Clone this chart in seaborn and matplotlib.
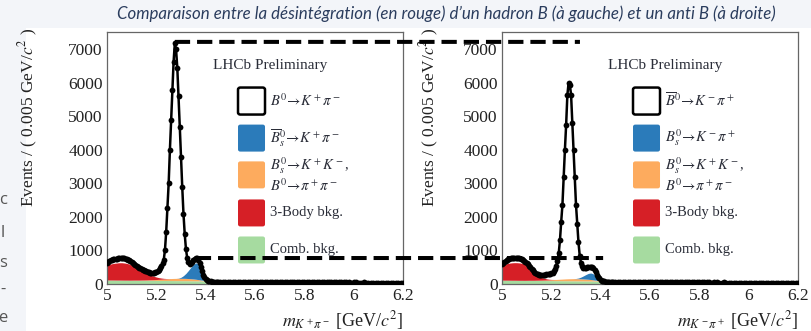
import numpy as np
import pandas as pd
import matplotlib
matplotlib.use("Agg")
import matplotlib.pyplot as plt
import seaborn as sns
from matplotlib.patches import Rectangle, FancyBboxPatch, ConnectionPatch
from matplotlib.ticker import MultipleLocator, FuncFormatter

# ---------------- data ----------------
# bin centres (GeV/c^2): fine binning 5.000-5.450 (0.005), then 5.46-6.20 (0.01)
fine_x = np.round(np.arange(5.000, 5.4501, 0.005), 3)
tail_x = np.round(np.arange(5.46, 6.2001, 0.01), 2)

left_fine = [
    620, 660, 690, 710, 725, 735, 745, 755, 760, 765,
    770, 775, 775, 770, 765, 755, 740, 725, 705, 680,
    650, 618, 588, 560, 533, 508, 485, 465, 447, 432,
    418, 400, 382, 366, 352, 343, 338, 338, 342, 350,
    362, 385, 420, 470, 540, 620, 716, 1015, 1562, 2260,
    3005, 4000, 4896, 5791, 6636, 7185, 7000, 6450, 5600, 4700,
    3800, 2900, 2100, 1500, 1050, 780, 650, 610, 620, 660,
    715, 760, 785, 780, 725, 620, 500, 380, 280, 200,
    150, 115, 95, 82, 75, 72, 70, 68, 67, 66,
    66,
]
left_tail = [
    65, 64, 66, 63, 62, 64, 61, 62, 60, 61,
    59, 60, 58, 59, 57, 58, 56, 57, 58, 55,
    56, 54, 55, 56, 53, 54, 52, 54, 53, 51,
    52, 53, 50, 51, 52, 49, 50, 51, 48, 49,
    50, 48, 47, 49, 48, 46, 47, 48, 45, 46,
    47, 45, 46, 44, 45, 46, 43, 44, 45, 43,
    44, 42, 43, 44, 42, 41, 43, 42, 40, 41,
    42, 40, 41, 39, 40,
]
right_fine = [
    600, 630, 660, 690, 720, 740, 755, 765, 770, 775,
    775, 775, 770, 770, 765, 755, 740, 720, 695, 665,
    630, 590, 545, 500, 455, 410, 370, 335, 310, 292,
    282, 278, 276, 275, 276, 280, 285, 292, 300, 308,
    318, 340, 385, 440, 530, 700, 916, 1310, 1860, 2360,
    3200, 4000, 4750, 5640, 6000, 5950, 5650, 4800, 4000, 3200,
    2360, 1800, 1250, 850, 640, 530, 490, 475, 480, 495,
    510, 518, 515, 500, 470, 420, 350, 280, 215, 165,
    125, 100, 85, 76, 70, 66, 64, 62, 61, 60,
    60,
]
right_tail = [
    59, 60, 58, 57, 59, 56, 57, 58, 55, 56,
    55, 54, 56, 53, 54, 55, 52, 53, 51, 52,
    53, 50, 51, 52, 49, 50, 51, 48, 49, 50,
    48, 47, 49, 46, 47, 48, 45, 46, 47, 44,
    45, 46, 44, 43, 45, 44, 42, 43, 44, 41,
    42, 43, 41, 42, 40, 41, 42, 39, 40, 41,
    39, 40, 38, 39, 40, 37, 38, 39, 37, 38,
    37, 38, 36, 37, 36,
]

# fit components: 5.00-5.45 (0.01) then 5.5-6.2 (0.1)
comp_x = np.concatenate([np.round(np.arange(5.00, 5.4501, 0.01), 2),
                         np.round(np.arange(5.5, 6.2001, 0.1), 1)])

left_comb = [
    120, 119, 119, 118, 117, 117, 116, 115, 115, 114,
    113, 113, 112, 111, 111, 110, 109, 109, 108, 107,
    107, 106, 105, 105, 104, 103, 103, 102, 101, 101,
    100, 99, 99, 98, 97, 97, 96, 95, 95, 94,
    93, 93, 92, 91, 91, 90,
    85, 77, 70, 63, 57, 52, 47, 43,
]
left_kk = [
    0, 0, 0, 0, 0, 0, 0, 0, 0, 0,
    2, 3, 4, 5, 7, 9, 12, 15, 18, 22,
    27, 32, 38, 44, 50, 55, 60, 64, 67, 69,
    70, 70, 68, 65, 60, 54, 46, 36, 25, 15,
    8, 4, 2, 0, 0, 0,
    0, 0, 0, 0, 0, 0, 0, 0,
]
left_3body = [
    450, 470, 486, 500, 510, 518, 519, 512, 500, 481,
    452, 418, 379, 340, 296, 250, 205, 165, 130, 100,
    75, 52, 35, 20, 10, 4, 0, 0, 0, 0,
    0, 0, 0, 0, 0, 0, 0, 0, 0, 0,
    0, 0, 0, 0, 0, 0,
    0, 0, 0, 0, 0, 0, 0, 0,
]
left_bs = [
    0, 0, 0, 0, 0, 0, 0, 0, 0, 0,
    0, 0, 0, 0, 0, 0, 0, 0, 0, 0,
    0, 0, 0, 0, 0, 0, 0, 0, 0, 5,
    30, 80, 150, 240, 340, 430, 490, 470, 330, 170,
    60, 15, 0, 0, 0, 0,
    0, 0, 0, 0, 0, 0, 0, 0,
]

right_comb = [
    115, 114, 114, 113, 112, 112, 111, 110, 110, 109,
    108, 108, 107, 106, 106, 105, 104, 104, 103, 102,
    102, 101, 100, 100, 99, 98, 98, 97, 96, 96,
    95, 94, 94, 93, 92, 92, 91, 90, 90, 89,
    88, 88, 87, 86, 86, 85,
    80, 73, 66, 60, 54, 49, 45, 41,
]
right_kk = [
    0, 0, 0, 0, 0, 0, 0, 0, 0, 0,
    2, 3, 4, 5, 7, 9, 11, 14, 17, 21,
    25, 30, 36, 41, 46, 51, 55, 59, 62, 64,
    65, 64, 62, 59, 55, 49, 42, 33, 23, 14,
    7, 3, 1, 0, 0, 0,
    0, 0, 0, 0, 0, 0, 0, 0,
]
right_3body = [
    440, 470, 495, 510, 520, 525, 525, 520, 508, 488,
    430, 370, 300, 235, 175, 125, 85, 55, 35, 20,
    10, 4, 0, 0, 0, 0, 0, 0, 0, 0,
    0, 0, 0, 0, 0, 0, 0, 0, 0, 0,
    0, 0, 0, 0, 0, 0,
    0, 0, 0, 0, 0, 0, 0, 0,
]
right_bs = [
    0, 0, 0, 0, 0, 0, 0, 0, 0, 0,
    0, 0, 0, 0, 0, 0, 0, 0, 0, 0,
    0, 0, 0, 0, 0, 0, 0, 0, 0, 0,
    5, 20, 50, 90, 135, 175, 195, 180, 120, 60,
    20, 5, 0, 0, 0, 0,
    0, 0, 0, 0, 0, 0, 0, 0,
]

left_legend = [
    r"$B^0\!\rightarrow\!K^+\pi^-$",
    r"$\overline{B}{}_s^0\!\rightarrow\!K^+\pi^-$",
    r"$B_s^0\!\rightarrow\!K^+K^-$," + "\n" + r"$B^0\!\rightarrow\!\pi^+\pi^-$",
    "3-Body bkg.",
    "Comb. bkg.",
]
right_legend = [
    r"$\overline{B}{}^0\!\rightarrow\!K^-\pi^+$",
    r"$B_s^0\!\rightarrow\!K^-\pi^+$",
    r"$B_s^0\!\rightarrow\!K^+K^-$," + "\n" + r"$B^0\!\rightarrow\!\pi^+\pi^-$",
    "3-Body bkg.",
    "Comb. bkg.",
]
left_xlabel = r"$m_{K^+\pi^-}$ [GeV/$c^2$]"
right_xlabel = r"$m_{K^-\pi^+}$ [GeV/$c^2$]"
ylabel = r"Events / ( 0.005 GeV/$c^2$ )"
title = "Comparaison entre la désintégration (en rouge) d\u2019un hadron B (à gauche) et un anti B (à droite)"

# ---------------- style ----------------
BLUE = "#2b7bba"
ORANGE = "#fdab5e"
RED = "#d61f26"
GREEN = "#a6dba0"
TXT = "#2a2d38"

sns.set_theme(style="white")
plt.rcParams.update({
    "font.family": ["Liberation Serif", "DejaVu Serif"],
    "mathtext.fontset": "stix",
    "lines.scale_dashes": False,
    "axes.edgecolor": "#555555",
    "axes.linewidth": 0.9,
})

W, H = 811, 331
fig = plt.figure(figsize=(W / 100, H / 100), dpi=100)
fig.patch.set_facecolor("#f3f5f9")
fig.add_artist(Rectangle((26 / W, 0), 1 - 26 / W, 303 / H, transform=fig.transFigure,
                         facecolor="white", edgecolor="none", zorder=-5))

ax1 = fig.add_axes([107 / W, 47 / H, 296 / W, 252 / H])
ax2 = fig.add_axes([502 / W, 47 / H, 296 / W, 252 / H])


def draw_panel(ax, fine_vals, tail_vals, comb, kk, body3, bs, labels, xlabel, ylab_x):
    comb = np.array(comb, float)
    kk = np.array(kk, float)
    body3 = np.array(body3, float)
    bs = np.array(bs, float)
    l1 = comb
    l2 = l1 + kk
    l3 = l2 + body3
    l4 = l3 + bs
    ax.fill_between(comp_x, 0, l1, color=GREEN, lw=0, zorder=1)
    ax.fill_between(comp_x, l1, l2, color=ORANGE, lw=0, zorder=1)
    ax.fill_between(comp_x, l2, l3, color=RED, lw=0, zorder=1)
    ax.fill_between(comp_x, l3, l4, color=BLUE, lw=0, zorder=1)

    df = pd.DataFrame({"m": np.concatenate([fine_x, tail_x]),
                       "n": np.concatenate([fine_vals, tail_vals])})
    sns.lineplot(data=df, x="m", y="n", ax=ax, color="black", lw=1.8,
                 marker="o", markersize=4.2, markeredgewidth=0, zorder=5)

    ax.set_xlim(5.0, 6.2)
    ax.set_ylim(0, 7520)
    ax.xaxis.set_major_locator(MultipleLocator(0.2))
    ax.xaxis.set_minor_locator(MultipleLocator(0.04))
    ax.yaxis.set_major_locator(MultipleLocator(1000))
    ax.yaxis.set_minor_locator(MultipleLocator(200))
    ax.xaxis.set_major_formatter(FuncFormatter(lambda v, p: f"{v:g}"))
    ax.tick_params(axis="both", which="both", direction="in", top=False, right=False,
                   colors="#444444", labelcolor="#222222")
    ax.tick_params(axis="y", which="major", length=10, width=0.8, pad=3, labelsize=12.5)
    ax.tick_params(axis="y", which="minor", length=5, width=0.8)
    ax.tick_params(axis="x", which="major", length=7, width=0.8, pad=3, labelsize=12.5)
    ax.tick_params(axis="x", which="minor", length=3.6, width=0.8)
    for s in ax.spines.values():
        s.set_color("#666666")
        s.set_linewidth(0.9)

    ax.set_xlabel(xlabel, fontsize=13, loc="right", color="#222222")
    ax.xaxis.set_label_coords(1.0, -0.1)
    ax.set_ylabel(ylabel, fontsize=12.5, loc="top", color="#222222")
    ax.yaxis.set_label_coords(ylab_x, 1.016)

    # legend (ROOT-style)
    ax.text(0.358, 0.869, "LHCb Preliminary", transform=ax.transAxes, fontsize=11,
            va="center", ha="left", color=TXT, zorder=6)
    bw, bh = 27 / 296, 27 / 252
    centers = [0.726, 0.579, 0.433, 0.282, 0.135]
    styles = [("white", "black"), (BLUE, "none"), (ORANGE, "none"), (RED, "none"), (GREEN, "none")]
    for (fc, ec), cy, lab in zip(styles, centers, labels):
        ax.add_patch(FancyBboxPatch((0.4426, cy - bh / 2), bw, bh,
                                    boxstyle="round,pad=0,rounding_size=0.008",
                                    transform=ax.transAxes, facecolor=fc, edgecolor=ec,
                                    lw=1.8 if ec == "black" else 0, zorder=6))
        ax.text(0.551, cy, lab, transform=ax.transAxes, fontsize=10.5, va="center",
                ha="left", color=TXT, zorder=6, linespacing=1.1)


draw_panel(ax1, left_fine, left_tail, left_comb, left_kk, left_3body, left_bs,
           left_legend, left_xlabel, -0.226)
draw_panel(ax2, right_fine, right_tail, right_comb, right_kk, right_3body, right_bs,
           right_legend, right_xlabel, -0.206)

# dashed comparison lines between the two panels
lf = np.array(left_fine, float)
i_peak = int(np.argmax(lf))
mask = (fine_x > 5.34) & (fine_x < 5.40)
i_bump = int(np.where(mask)[0][np.argmax(lf[mask])])
for (x0, y0, x1) in [(fine_x[i_peak], lf[i_peak] + 40, 5.316),
                     (fine_x[i_bump], lf[i_bump] - 10, 5.410)]:
    con = ConnectionPatch(xyA=(x0, y0), coordsA=ax1.transData,
                          xyB=(x1, y0), coordsB=ax2.transData,
                          color="black", lw=2.9, linestyle=(0, (11, 5)),
                          capstyle="butt", zorder=20)
    fig.add_artist(con)

fig.text(0.551, 0.958, title, ha="center", va="center", fontsize=12.2, style="italic",
         family=["Lato", "DejaVu Sans"], color="#2b3d5e")

# clipped letters from the neighbouring slide text
for ch, yy in [("c", 200), ("l", 233), ("s", 263), ("-", 290), ("e", 318)]:
    fig.text(3 / W, 1 - yy / H, ch, ha="center", va="center", fontsize=12,
             color="#555555", family=["Open Sans", "DejaVu Sans"])

fig.savefig("out.png", dpi=100, facecolor=fig.get_facecolor())
